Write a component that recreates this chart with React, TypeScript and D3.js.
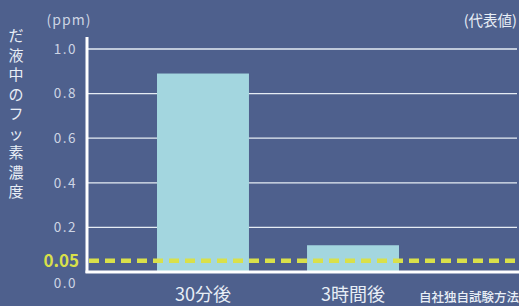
import { useEffect, useRef } from 'react';
import * as d3 from 'd3';

const categories = ['30分後', '3時間後'];
const values = [0.89, 0.12];
const yTicks = [0.2, 0.4, 0.6, 0.8, 1.0];
const refValue = 0.05;
const yTitle = 'だ液中のフッ素濃度';

const W = 519;
const H = 306;

export default function App() {
  const svgRef = useRef<SVGSVGElement>(null);

  useEffect(() => {
    if (!svgRef.current) return;
    const svg = d3.select(svgRef.current);
    svg.selectAll('*').remove();

    const left = 87;
    const right = 519;
    const y = d3.scaleLinear().domain([0, 1]).range([272, 49]);
    const x = d3.scaleBand<string>().domain(categories).range([82, 474]).paddingInner(0.387).paddingOuter(0.5);

    svg.append('rect').attr('width', W).attr('height', H).attr('fill', '#4e608d');

    const font = "'Noto Sans CJK JP', 'Noto Sans', sans-serif";
    const g = svg.append('g');

    // grid lines
    g.selectAll('.grid')
      .data(yTicks)
      .enter().append('line')
      .attr('x1', left).attr('x2', 517)
      .attr('y1', d => y(d)).attr('y2', d => y(d))
      .attr('stroke', '#e6ecf4').attr('stroke-width', 1.3);

    // bars
    g.selectAll('.bar')
      .data(values)
      .enter().append('rect')
      .attr('x', (_, i) => x(categories[i])!)
      .attr('width', x.bandwidth())
      .attr('y', d => y(d))
      .attr('height', d => y(0) - y(d))
      .attr('fill', '#a3d6df');

    // axes lines
    g.append('line')
      .attr('x1', left).attr('x2', left).attr('y1', 37).attr('y2', y(0) + 1)
      .attr('stroke', '#ffffff').attr('stroke-width', 3);
    g.append('line')
      .attr('x1', left - 1.5).attr('x2', right).attr('y1', y(0)).attr('y2', y(0))
      .attr('stroke', '#ffffff').attr('stroke-width', 3);

    // reference line
    g.append('line')
      .attr('x1', left + 2).attr('x2', right).attr('y1', y(refValue)).attr('y2', y(refValue))
      .attr('stroke', '#d9e04a').attr('stroke-width', 4.5)
      .attr('stroke-dasharray', '10,6');

    // tick labels
    g.selectAll('.tick')
      .data(yTicks)
      .enter().append('text')
      .attr('x', 77).attr('y', d => y(d))
      .attr('dy', '0.36em')
      .attr('text-anchor', 'end')
      .style('font-family', font).style('font-size', '13.5px')
      .style('letter-spacing', '1.5px')
      .style('fill', '#cdd5e4')
      .text(d => d.toFixed(1));
    g.append('text')
      .attr('x', 77).attr('y', y(0) + 11).attr('dy', '0.36em')
      .attr('text-anchor', 'end')
      .style('font-family', font).style('font-size', '13.5px')
      .style('letter-spacing', '1.5px')
      .style('fill', '#cdd5e4')
      .text('0.0');
    g.append('text')
      .attr('x', 79).attr('y', y(refValue)).attr('dy', '0.36em')
      .attr('text-anchor', 'end')
      .style('font-family', font).style('font-size', '17px').style('font-weight', 'bold')
      .style('fill', '#d9e04a')
      .text(refValue.toFixed(2));

    // category labels
    g.selectAll('.cat')
      .data(categories)
      .enter().append('text')
      .attr('x', d => x(d)! + x.bandwidth() / 2)
      .attr('y', 301)
      .attr('text-anchor', 'middle')
      .style('font-family', font).style('font-size', '18px')
      .style('fill', '#e8eef6')
      .text(d => d);

    g.append('text')
      .attr('x', 519).attr('y', 302)
      .attr('text-anchor', 'end')
      .style('font-family', font).style('font-size', '12.5px').style('font-weight', 500)
      .style('fill', '#e8eef6')
      .text('自社独自試験方法');

    g.append('text')
      .attr('x', 69).attr('y', 25)
      .attr('text-anchor', 'middle')
      .style('font-family', font).style('font-size', '14px')
      .style('letter-spacing', '1px')
      .style('fill', '#cdd5e4')
      .text('(ppm)');

    g.append('text')
      .attr('x', 517).attr('y', 26)
      .attr('text-anchor', 'end')
      .style('font-family', font).style('font-size', '14.5px')
      .style('fill', '#e8eef6')
      .text('(代表値)');

    // vertical title
    g.selectAll('.ych')
      .data(Array.from(yTitle))
      .enter().append('text')
      .attr('x', 16)
      .attr('y', (_, i) => 41 + i * 19.5)
      .attr('text-anchor', 'middle')
      .style('font-family', font).style('font-size', '15px')
      .style('fill', '#e8eef6')
      .text(d => d);
  }, []);

  return (
    <div style={{ position: 'fixed', left: 0, top: 0 }}>
      <svg ref={svgRef} width={W} height={H} style={{ display: 'block' }}></svg>
    </div>
  );
}
